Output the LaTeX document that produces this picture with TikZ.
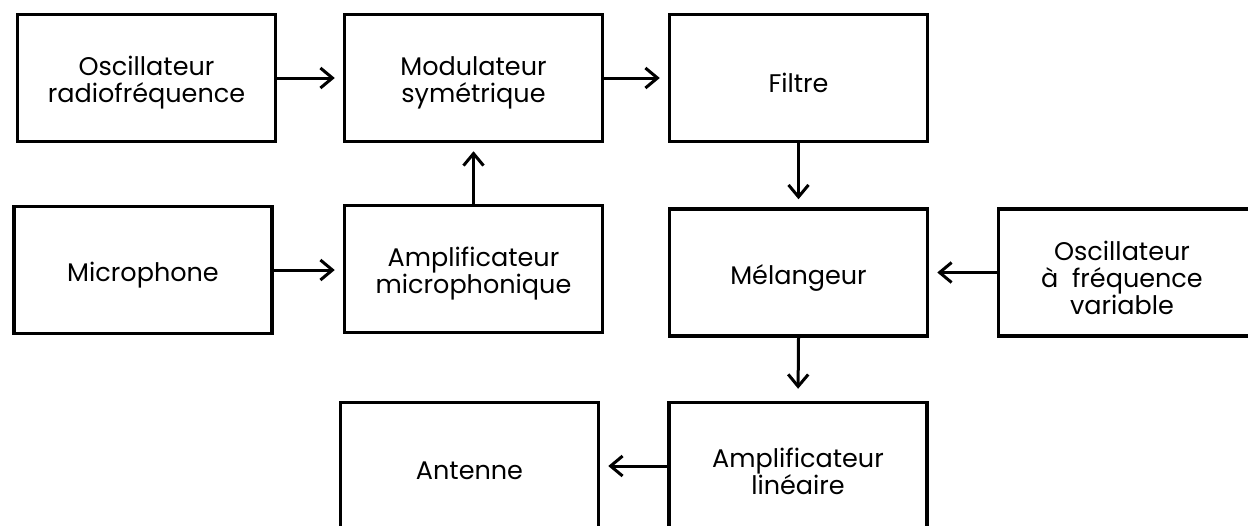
\documentclass[tikz,border=0pt]{standalone}
\usepackage{fontspec}
\setmainfont{Poppins}
\usetikzlibrary{arrows.meta}
\begin{document}
\begin{tikzpicture}[x=1pt,y=-1pt,
  txt/.style={align=center, inner sep=0pt, font=\fontsize{25.5}{27}\selectfont, yshift=-5pt},
  blk/.style={draw, line width=3.5pt, minimum width=258pt, minimum height=127pt, inner sep=0pt,
    label={[txt]center:#1}},
  conn/.style={line width=3pt, -{Straight Barb[length=12pt,width=20pt,line width=3pt]}, shorten >=8pt}]
\useasboundingbox (0,0) rectangle (1248,525);
\clip (0,0) rectangle (1248,525);
\node[blk={Oscillateur\\radiofréquence}] (oscrf) at (146.5,78) {};
\node[blk={Modulateur\\symétrique}] (mod) at (473.5,78) {};
\node[blk={Filtre}] (filt) at (798.5,78) {};
\node[blk={Microphone}] (micro) at (143,270) {};
\node[blk={Amplificateur\\microphonique}] (ampm) at (473.5,269) {};
\node[blk={Mélangeur}] (mel) at (798.5,272.5) {};
\node[blk={}] (oscv) at (1127.5,272.5) {};
\node[txt] (oscvt) at (1122,272.5) {Oscillateur\\à\ \ fréquence\\variable};
\node[blk={Antenne}] (ant) at (469.5,466) {};
\node[blk={Amplificateur\\linéaire}] (amplin) at (798,466) {};
\draw[conn] (oscrf.east) -- (mod.west);
\draw[conn] (mod.east) -- (filt.west);
\draw[conn] (micro) -- (ampm.west |- micro);
\draw[conn] (ampm.north) -- (mod.south);
\draw[conn] (filt.south) -- (mel.north);
\draw[conn] (oscv.west) -- (mel.east);
\draw[conn, shorten >=12pt] (mel.south) -- (amplin.north);
\draw[conn] (amplin.west) -- (ant.east);
\end{tikzpicture}
\end{document}
